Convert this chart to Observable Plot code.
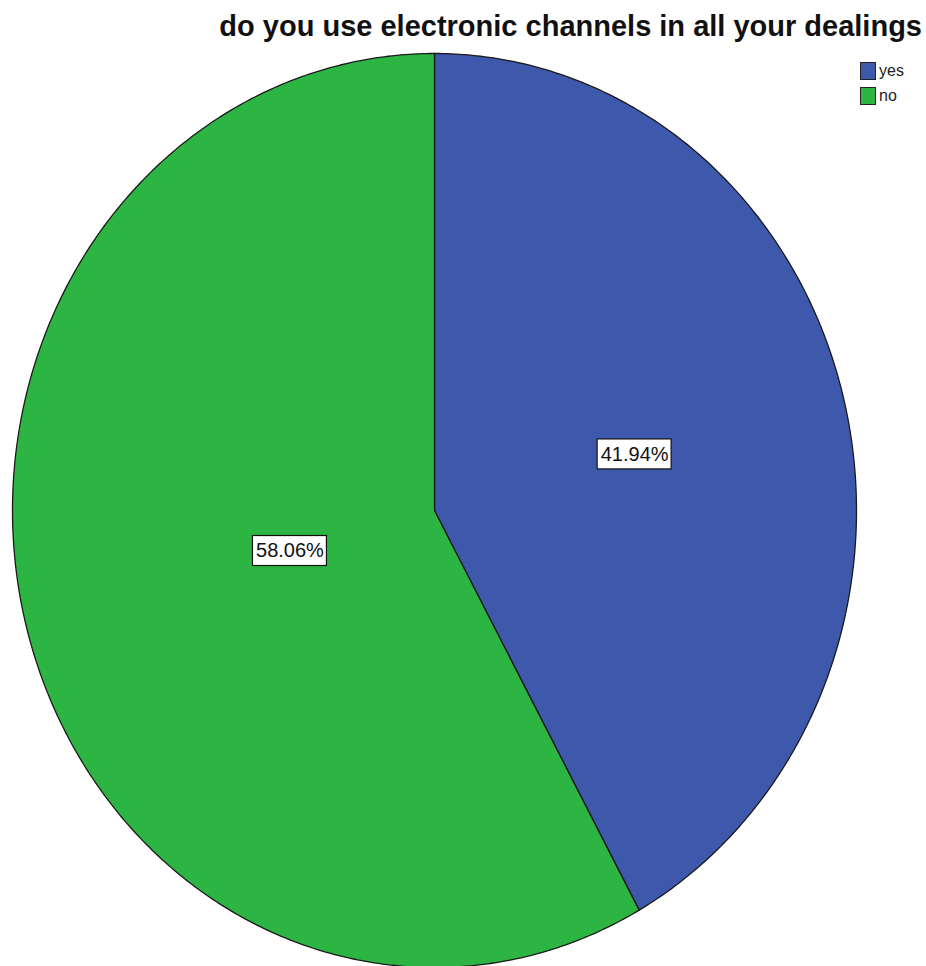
<!DOCTYPE html>
<html>
<head>
<meta charset="utf-8">
<script src="https://cdn.jsdelivr.net/npm/d3@7"></script>
<script src="https://cdn.jsdelivr.net/npm/@observablehq/plot@0.6"></script>
<style>
  html, body { margin: 0; padding: 0; background: #fff; }
  #wrap { position: relative; width: 926px; height: 966px; overflow: hidden; font-family: "Liberation Sans", Arial, sans-serif; }
  #title { position: absolute; right: 4px; top: 10px; font-size: 29px; font-weight: bold; color: #111; white-space: nowrap; }
  #legend { position: absolute; left: 860px; top: 58px; font-size: 16px; color: #222; }
  .item { display: flex; align-items: center; height: 25px; }
  .sw { width: 16px; height: 18px; border: 1px solid #222; box-sizing: border-box; margin-right: 3px; }
  #chart { position: absolute; left: 0; top: 0; }
</style>
</head>
<body>
<div id="wrap">
  <div id="chart"></div>
  <div id="title"></div>
  <div id="legend"></div>
</div>
<script>
const titleText = "do you use electronic channels in all your dealings";
const categories = ["yes", "no"];
const percents = [41.94, 58.06];
const colors = ["#3e58ac", "#2db543"];

document.getElementById("title").textContent = titleText;
const legend = document.getElementById("legend");
categories.forEach((c, i) => {
  const it = document.createElement("div");
  it.className = "item";
  it.innerHTML = `<div class="sw" style="background:${colors[i]}"></div><span>${c}</span>`;
  legend.appendChild(it);
});

const arcs = d3.pie().sort(null).value(d => d.value)(categories.map((c, i) => ({cat: c, value: percents[i], color: colors[i]})));

// slice outlines in unit-ellipse space (angle clockwise from top)
const slices = arcs.map(a => {
  const pts = [{x: 0, y: 0}];
  const n = Math.max(2, Math.ceil((a.endAngle - a.startAngle) / 0.01));
  for (let k = 0; k <= n; k++) {
    const t = a.startAngle + (a.endAngle - a.startAngle) * k / n;
    pts.push({x: Math.sin(t), y: Math.cos(t)});
  }
  pts.push({x: 0, y: 0});
  // area centroid of sector
  const half = (a.endAngle - a.startAngle) / 2;
  const mid = (a.startAngle + a.endAngle) / 2;
  const d = 2 * Math.sin(half) / (3 * half);
  return {cat: a.data.cat, color: a.data.color, value: a.data.value, pts, cx: d * Math.sin(mid), cy: d * Math.cos(mid)};
});

const xRange = [12, 856], yRange = [967, 53];
const ux = 2 / (xRange[1] - xRange[0]); // data units per pixel
const uy = 2 / (yRange[0] - yRange[1]);
const labels = slices.map(s => ({
  text: s.value.toFixed(2) + "%",
  x: s.cx, y: s.cy,
  x1: s.cx - 37 * ux, x2: s.cx + 37 * ux,
  y1: s.cy - 15 * uy, y2: s.cy + 15 * uy
}));

const marks = [];
slices.forEach(s => {
  marks.push(Plot.line(s.pts, {x: "x", y: "y", fill: s.color, stroke: "#1a1a1a", strokeWidth: 1.3, curve: "linear-closed"}));
});
marks.push(Plot.rect(labels, {x1: "x1", x2: "x2", y1: "y1", y2: "y2", fill: "white", stroke: "#111", strokeWidth: 1.2}));
marks.push(Plot.text(labels, {x: "x", y: "y", text: "text", fontSize: 20, fill: "#111", fontFamily: "Liberation Sans, Arial, sans-serif"}));

const chart = Plot.plot({
  width: 926,
  height: 966,
  margin: 0,
  x: {domain: [-1, 1], range: xRange, axis: null},
  y: {domain: [-1, 1], range: yRange, axis: null},
  marks
});
document.getElementById("chart").appendChild(chart);
</script>
</body>
</html>
